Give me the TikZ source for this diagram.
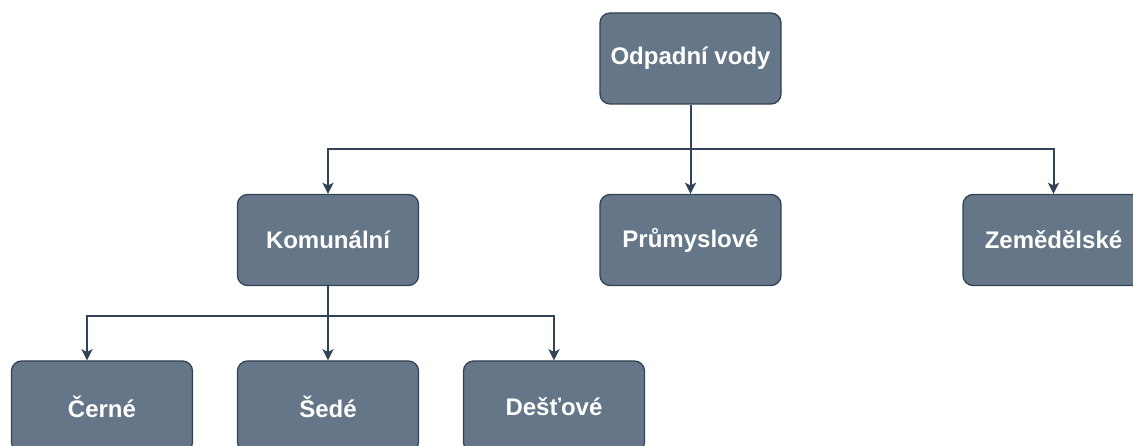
\documentclass[tikz,border=0pt]{standalone}
\usepackage{fontspec}
\setmainfont{Liberation Sans}
\usetikzlibrary{arrows.meta,calc}
\definecolor{boxfill}{HTML}{647687}
\definecolor{boxline}{HTML}{314354}
\tikzset{
  box/.style={draw=boxline, fill=boxfill, line width=1.3pt, rounded corners=10pt,
    minimum width=181pt, minimum height=91pt, inner sep=0pt, text=white,
    font=\fontsize{24}{28}\selectfont\bfseries},
  conn/.style={draw=boxline, line width=2pt, -{Stealth[length=11pt,width=11pt,inset=2.5pt]}}
}
\begin{document}
\begin{tikzpicture}[x=1pt,y=-1pt]
\useasboundingbox (0,0) rectangle (1133,446);
\clip (0,0) rectangle (1133,446);
\fill[white] (0,0) rectangle (1133,446);
\node[box] (odp) at (690.5,58.5) {Odpadní vody};
\node[box] (kom) at (328,240) {Komunální};
\node[box] (pru) at (690.5,240) {Průmyslové};
\node[box] (zem) at (1053.5,240) {Zemědělské};
\node[box] (cer) at (102,406.5) {Černé};
\node[box] (sed) at (328,406.5) {Šedé};
\node[box] (des) at (554,406.5) {Dešťové};
\coordinate (cerin) at ([xshift=-15pt]cer.north);
\draw[conn] (odp.south) -- (odp.south |- 0,149) -| (kom.north);
\draw[conn] (odp.south) -- (pru.north);
\draw[conn] (odp.south) -- (odp.south |- 0,149) -| (zem.north);
\draw[conn] (kom.south) -- (kom.south |- 0,316) -| (cerin);
\draw[conn] (kom.south) -- (sed.north);
\draw[conn] (kom.south) -- (kom.south |- 0,316) -| (des.north);
\end{tikzpicture}
\end{document}
